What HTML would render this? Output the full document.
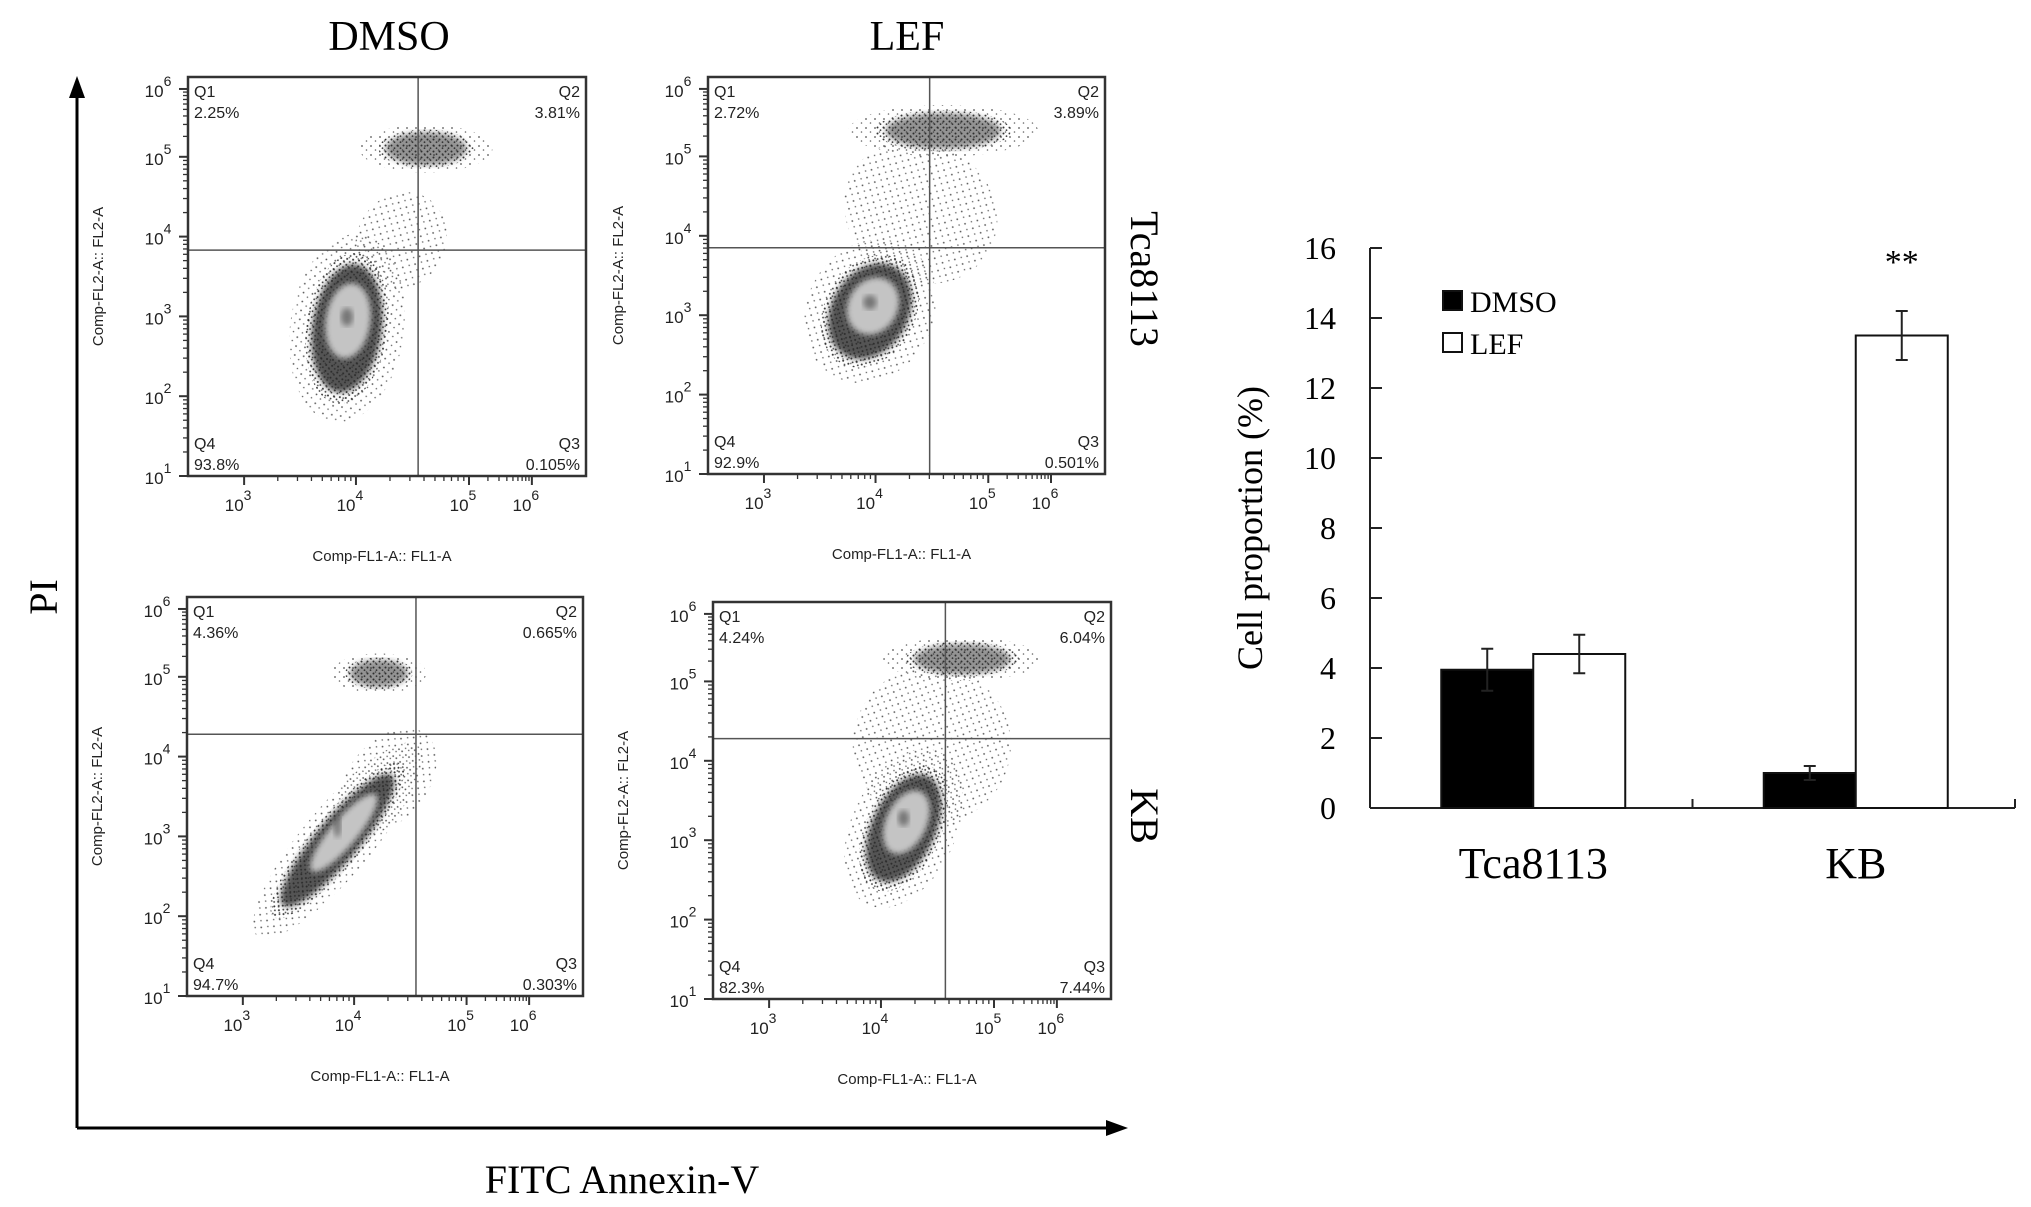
<!DOCTYPE html>
<html><head><meta charset="utf-8">
<style>
html,body{margin:0;padding:0;background:#fff;}
body{width:2031px;height:1207px;overflow:hidden;position:relative;}
svg{position:absolute;left:0;top:0;}
.serif{font-family:"Liberation Serif",serif;}
.sans{font-family:"Liberation Sans",sans-serif;}
</style></head>
<body>
<svg id="fig" width="2031" height="1207" viewBox="0 0 2031 1207" xmlns="http://www.w3.org/2000/svg">
<defs>
<pattern id="dots" width="6" height="6" patternUnits="userSpaceOnUse"><circle cx="1.5" cy="1.5" r="1" fill="#333"/><circle cx="4.5" cy="4.2" r="0.9" fill="#444"/></pattern>
<pattern id="dotsSparse" width="9" height="9" patternUnits="userSpaceOnUse"><circle cx="2" cy="2" r="0.9" fill="#555"/><circle cx="6.5" cy="6" r="0.8" fill="#666"/></pattern>
<filter id="soft"><feGaussianBlur stdDeviation="3"/></filter>
</defs>
<line x1="77" y1="1128" x2="77" y2="96" stroke="#000" stroke-width="3"/>
<polygon points="77,76 69,98 85,98" fill="#000"/>
<line x1="77" y1="1128" x2="1108" y2="1128" stroke="#000" stroke-width="3"/>
<polygon points="1128,1128 1106,1120 1106,1136" fill="#000"/>
<text class="serif" x="48" y="597" font-size="40" text-anchor="middle" transform="rotate(-90 48 597)" dominant-baseline="middle">PI</text>
<text class="serif" x="622" y="1193" font-size="40" text-anchor="middle">FITC Annexin-V</text>
<text class="serif" x="389" y="50" font-size="42" text-anchor="middle">DMSO</text>
<text class="serif" x="907" y="50" font-size="42" text-anchor="middle">LEF</text>
<text class="serif" x="1140" y="279" font-size="40" text-anchor="middle" dominant-baseline="middle" transform="rotate(90 1140 279)">Tca8113</text>
<text class="serif" x="1140" y="816" font-size="40" text-anchor="middle" dominant-baseline="middle" transform="rotate(90 1140 816)">KB</text>
<g id="flow"></g>
<g id="bars"></g>
</svg>
<script>
const NS='http://www.w3.org/2000/svg';
function mk(tag,attrs,parent){const e=document.createElementNS(NS,tag);for(const k in attrs)e.setAttribute(k,attrs[k]);parent.appendChild(e);return e;}

/* ---------- Flow cytometry panels ---------- */
const panelNames=['tca8113-dmso','tca8113-lef','kb-dmso','kb-lef'];
const q1Values=['2.25%','2.72%','4.36%','4.24%'];
const q2Values=['3.81%','3.89%','0.665%','6.04%'];
const q3Values=['0.105%','0.501%','0.303%','7.44%'];
const q4Values=['93.8%','92.9%','94.7%','82.3%'];
const gateX=[4.55,4.48,4.55,4.57];
const gateY=[3.83,3.85,4.28,4.28];
// populations: [logX, logY, spreadX(decades), spreadY(decades), angle]
const livePop=[[3.92,2.85,0.36,0.95,8],[3.95,3.05,0.4,0.75,30],[3.85,2.95,0.22,1.25,40],[4.2,3.15,0.33,0.85,25]];
const deadPop=[[4.62,5.12,0.42,0.24,0],[4.6,5.38,0.6,0.26,0],[4.22,5.05,0.3,0.2,0],[4.72,5.33,0.5,0.22,0]];
const midPop=[[4.4,3.95,0.28,0.5,30],[4.4,4.3,0.5,0.7,30],[4.3,3.7,0.25,0.6,40],[4.45,4.2,0.5,0.8,25]];
const xTickDec=[3,4,5,6];
const yTickDec=[1,2,3,4,5,6];
const boxes=[[188,77,586,476],[708,77,1105,474],[187,597,583,996],[713,602,1111,999]];
const xFrac=[0.141,0.422,0.706,0.864];
const yFrac=[0,0.2,0.4,0.6,0.8,0.97];

function interp(v,decs,fr){
  if(v<=decs[0])return fr[0]+(v-decs[0])*(fr[1]-fr[0]);
  for(let i=0;i<decs.length-1;i++){if(v<=decs[i+1])return fr[i]+(v-decs[i])/(decs[i+1]-decs[i])*(fr[i+1]-fr[i]);}
  const n=decs.length-1;return fr[n]+(v-decs[n])*(fr[n]-fr[n-1]);
}
const flow=document.getElementById('flow');
panelNames.forEach((nm,p)=>{
  const [x0,y0,x1,y1]=boxes[p];const W=x1-x0,H=y1-y0;
  const sx=v=>x0+interp(v,xTickDec,xFrac)*W;
  const sy=v=>y1-interp(v,yTickDec,yFrac)*H;
  const g=mk('g',{},flow);
  
  
  const clip='clip'+p;
  const cp=mk('clipPath',{id:clip},g);mk('rect',{x:x0,y:y0,width:W,height:H},cp);
  const pg=mk('g',{'clip-path':'url(#'+clip+')'},g);
  const dx=(sx(5)-sx(4)),dy=(sy(3)-sy(4));
  function blob(pop,kind){
    const [lx,ly,rx,ry,ang]=pop;const cx=sx(lx),cy=sy(ly);
    const RX=rx*dx,RY=ry*dy;const tr='rotate('+ang+' '+cx+' '+cy+')';
    const e1=mk('ellipse',{cx:cx,cy:cy,rx:RX*1.4,ry:RY*1.25,fill:'url(#dotsSparse)',transform:tr},pg);
    
    if(kind==='mid'){return;}
    const e2=mk('ellipse',{cx:cx,cy:cy,rx:RX,ry:RY,fill:'url(#dots)',transform:tr},pg);
    
    const e3=mk('ellipse',{cx:cx,cy:cy,rx:RX*0.85,ry:RY*0.85,fill:'#2b2b2b',opacity:kind==='live'?0.8:0.5,filter:'url(#soft)',transform:tr},pg);
    
    if(kind==='live'){
      const e4=mk('ellipse',{cx:cx,cy:cy-RY*0.1,rx:RX*0.55,ry:RY*0.5,fill:'#c4c4c4',filter:'url(#soft)',transform:tr},pg);
      
      mk('ellipse',{cx:cx,cy:cy-RY*0.15,rx:RX*0.15,ry:RY*0.12,fill:'#555',opacity:0.7,filter:'url(#soft)'},pg);
    }
  }
  blob(midPop[p],'mid');blob(livePop[p],'live');blob(deadPop[p],'dead');
  const gv=mk('line',{x1:sx(gateX[p]),y1:y0,x2:sx(gateX[p]),y2:y1,stroke:'#555','stroke-width':1.5},g);
  
  const gh=mk('line',{x1:x0,y1:sy(gateY[p]),x2:x1,y2:sy(gateY[p]),stroke:'#555','stroke-width':1.5},g);
  
  const fr=mk('rect',{x:x0,y:y0,width:W,height:H,fill:'none',stroke:'#333','stroke-width':2.5},g);
  
  const ql=[['Q1',q1Values[p],x0+6,y0+20,'start'],['Q2',q2Values[p],x1-6,y0+20,'end'],['Q4',q4Values[p],x0+6,y1-27,'start'],['Q3',q3Values[p],x1-6,y1-27,'end']];
  ql.forEach(q=>{
    const t=mk('text',{x:q[2],y:q[3],'font-size':16,'text-anchor':q[4],'class':'sans',fill:'#222'},g);
    
    t.textContent=q[0];
    const t2=mk('text',{x:q[2],y:q[3]+21,'font-size':16,'text-anchor':q[4],'class':'sans',fill:'#222'},g);
    
    t2.textContent=q[1];
  });
  yTickDec.forEach(d=>{
    const y=sy(d);
    mk('line',{x1:x0-9,y1:y,x2:x0,y2:y,stroke:'#333','stroke-width':2},g);
    for(let m=2;m<10&&d<6;m++){const yy=sy(d+Math.log10(m));mk('line',{x1:x0-5,y1:yy,x2:x0,y2:yy,stroke:'#333','stroke-width':1.3},g);}
    const t=mk('text',{x:x0-30,y:y+8,'font-size':17,'text-anchor':'middle','class':'sans',fill:'#222'},g);
    
    t.innerHTML='10<tspan dy="-11" font-size="14">'+d+'</tspan>';
  });
  xTickDec.forEach(d=>{
    const x=sx(d);
    mk('line',{x1:x,y1:y1,x2:x,y2:y1+9,stroke:'#333','stroke-width':2},g);
    for(let m=2;m<10&&d<6;m++){const xx=sx(d+Math.log10(m));mk('line',{x1:xx,y1:y1,x2:xx,y2:y1+5,stroke:'#333','stroke-width':1.3},g);}
    const t=mk('text',{x:x-6,y:y1+35,'font-size':17,'text-anchor':'middle','class':'sans',fill:'#222'},g);
    
    t.innerHTML='10<tspan dy="-11" font-size="14">'+d+'</tspan>';
  });
  const yl=mk('text',{x:x0-85,y:(y0+y1)/2,'font-size':15,'text-anchor':'middle','class':'sans',fill:'#222',transform:'rotate(-90 '+(x0-85)+' '+((y0+y1)/2)+')'},g);
  
  yl.textContent='Comp-FL2-A:: FL2-A';
  const xl=mk('text',{x:(x0+x1)/2-5,y:y1+85,'font-size':15,'text-anchor':'middle','class':'sans',fill:'#222'},g);
  
  xl.textContent='Comp-FL1-A:: FL1-A';
});

/* ---------- Bar chart ---------- */
const categories=['Tca8113','KB'];
const seriesNames=['DMSO','LEF'];
const dmsoValues=[3.95,1.0];
const lefValues=[4.4,13.5];
const dmsoErr=[0.6,0.2];
const lefErr=[0.55,0.7];
const yTicks=[0,2,4,6,8,10,12,14,16];
const BX0=1370,BX1=2015,BY0=808,BY1=248,YMAX=16;
const yS=v=>BY0-(v/YMAX)*(BY0-BY1);
const catW=(BX1-BX0)/categories.length;
const barW=92;
const bars=document.getElementById('bars');
const ax=mk('line',{x1:BX0,y1:BY1,x2:BX0,y2:BY0,stroke:'#222','stroke-width':2},bars);

const axx=mk('line',{x1:BX0,y1:BY0,x2:BX1,y2:BY0,stroke:'#222','stroke-width':2},bars);

for(let i=0;i<=categories.length;i++){mk('line',{x1:BX0+i*catW,y1:BY0,x2:BX0+i*catW,y2:BY0-9,stroke:'#222','stroke-width':2},bars);}
yTicks.forEach(v=>{
  mk('line',{x1:BX0,y1:yS(v),x2:BX0+12,y2:yS(v),stroke:'#222','stroke-width':2},bars);
  const t=mk('text',{x:BX0-34,y:yS(v)+11,'font-size':32,'text-anchor':'end','class':'serif'},bars);
  
  t.textContent=v;
});
const yt=mk('text',{x:1262,y:(BY0+BY1)/2,'font-size':36,'text-anchor':'middle','class':'serif',transform:'rotate(-90 1262 '+((BY0+BY1)/2)+')'},bars);

yt.textContent='Cell proportion (%)';
categories.forEach((c,i)=>{
  const cx=BX0+catW*(i+0.5)+2;
  [[dmsoValues,dmsoErr,'#000','dmso'],[lefValues,lefErr,'#fff','lef']].forEach((s,j)=>{
    const x=cx-barW+j*barW;const v=s[0][i];
    const r=mk('rect',{x:x,y:yS(v),width:barW,height:BY0-yS(v),fill:s[2],stroke:'#111','stroke-width':2},bars);
    
    const ex=x+barW/2,e=s[1][i];
    const eb=mk('path',{d:'M'+ex+','+yS(v+e)+'V'+yS(v-e)+'M'+(ex-6)+','+yS(v+e)+'H'+(ex+6)+'M'+(ex-6)+','+yS(v-e)+'H'+(ex+6),stroke:'#222','stroke-width':2,fill:'none'},bars);
    
  });
  const t=mk('text',{x:cx,y:BY0+70,'font-size':44,'text-anchor':'middle','class':'serif'},bars);
  
  t.textContent=c;
});
const sig=mk('text',{x:BX0+catW*1.5+2+barW/2,y:yS(lefValues[1]+lefErr[1])-38,'font-size':34,'text-anchor':'middle','class':'serif'},bars);

sig.textContent='**';
seriesNames.forEach((s,j)=>{
  const y=301+j*42;
  const r=mk('rect',{x:1443,y:y-10,width:19,height:19,fill:j===0?'#000':'#fff',stroke:'#111','stroke-width':2},bars);
  
  const t=mk('text',{x:1470,y:y+11,'font-size':30,'class':'serif'},bars);
  
  t.textContent=s;
});
</script>
</body></html>
